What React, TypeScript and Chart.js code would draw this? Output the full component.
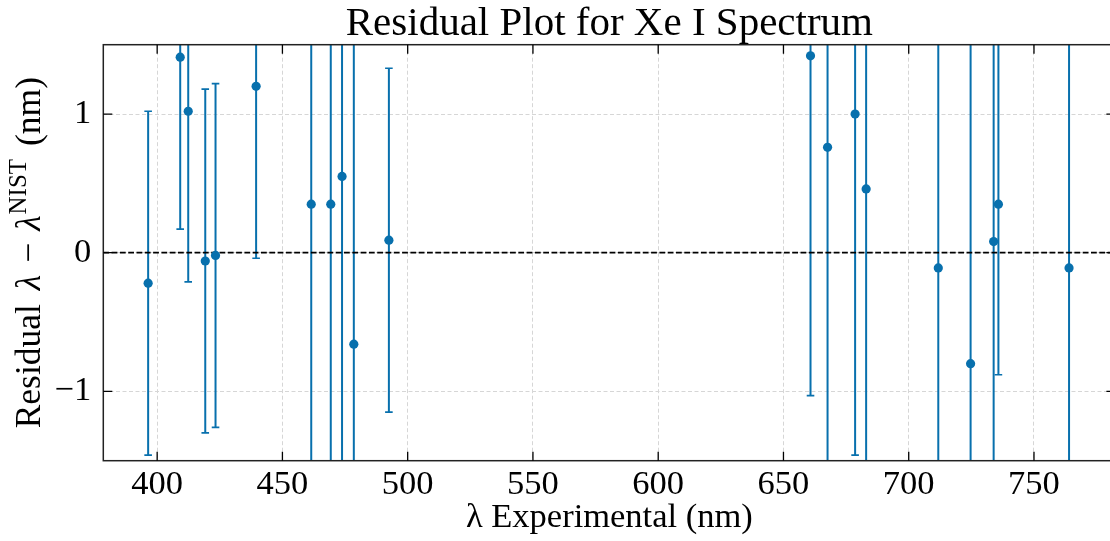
import { useEffect, useRef } from "react";
import { Chart, registerables } from "chart.js";

Chart.register(...registerables);

// ---- data ----
const wavelengths = [396.4, 409.2, 412.4, 419.2, 423.3, 439.5, 461.5, 469.3, 473.8, 478.5, 492.5, 660.8, 667.6, 678.6, 683.0, 711.8, 724.7, 733.9, 735.8, 764.0];
const residuals = [-0.22, 1.41, 1.02, -0.06, -0.02, 1.2, 0.35, 0.35, 0.55, -0.66, 0.09, 1.42, 0.76, 1.0, 0.46, -0.11, -0.8, 0.08, 0.35, -0.11];
const uncertainties = [1.24, 1.24, 1.23, 1.24, 1.24, 1.24, 2.45, 2.45, 2.45, 2.45, 1.24, 2.45, 2.45, 2.46, 2.45, 2.45, 2.45, 2.45, 1.23, 2.45];
const xTickValues = [400, 450, 500, 550, 600, 650, 700, 750];
const yTickValues = [-1, 0, 1];
const xRange = [378.5, 782.5];
const yRange = [-1.5, 1.5];

const TITLE = "Residual Plot for Xe I Spectrum";
const X_LABEL = "λ Experimental (nm)";

const BLUE = "#0870ad";
const FONT = '"Liberation Serif", "Times New Roman", serif';

const decorPlugin = {
  id: "decor",
  beforeDatasetsDraw(chart: any) {
    const { ctx, chartArea: a } = chart;
    const xs = chart.scales.x;
    const ys = chart.scales.y;
    ctx.save();
    ctx.beginPath();
    ctx.rect(a.left, a.top, a.right - a.left, a.bottom - a.top);
    ctx.clip();
    // error bars
    ctx.strokeStyle = BLUE;
    for (let i = 0; i < wavelengths.length; i++) {
      const px = xs.getPixelForValue(wavelengths[i]);
      const yTop = ys.getPixelForValue(residuals[i] + uncertainties[i]);
      const yBot = ys.getPixelForValue(residuals[i] - uncertainties[i]);
      ctx.lineWidth = 2;
      ctx.beginPath();
      ctx.moveTo(px, yTop);
      ctx.lineTo(px, yBot);
      ctx.stroke();
      ctx.lineWidth = 1.7;
      ctx.beginPath();
      ctx.moveTo(px - 3.8, yTop);
      ctx.lineTo(px + 3.8, yTop);
      ctx.moveTo(px - 3.8, yBot);
      ctx.lineTo(px + 3.8, yBot);
      ctx.stroke();
    }
    // zero line
    const y0 = ys.getPixelForValue(0);
    ctx.strokeStyle = "#000";
    ctx.lineWidth = 1.8;
    ctx.setLineDash([5.8, 2.5]);
    ctx.beginPath();
    ctx.moveTo(a.left, y0);
    ctx.lineTo(a.right, y0);
    ctx.stroke();
    ctx.restore();
  },
  afterDraw(chart: any) {
    const { ctx, chartArea: a } = chart;
    const xs = chart.scales.x;
    const ys = chart.scales.y;
    ctx.save();
    // frame
    ctx.strokeStyle = "#222";
    ctx.lineWidth = 1.5;
    ctx.strokeRect(a.left, a.top, a.right - a.left, a.bottom - a.top);
    // inward ticks
    ctx.lineWidth = 1.3;
    ctx.strokeStyle = "#000";
    const L = 9;
    ctx.beginPath();
    xTickValues.forEach((v) => {
      const px = xs.getPixelForValue(v);
      ctx.moveTo(px, a.bottom);
      ctx.lineTo(px, a.bottom - L);
      ctx.moveTo(px, a.top);
      ctx.lineTo(px, a.top + L);
    });
    yTickValues.forEach((v) => {
      const py = ys.getPixelForValue(v);
      ctx.moveTo(a.left, py);
      ctx.lineTo(a.left + L, py);
      ctx.moveTo(a.right, py);
      ctx.lineTo(a.right - L, py);
    });
    ctx.stroke();

    const cx = (a.left + a.right) / 2;
    ctx.fillStyle = "#000";
    // title
    ctx.font = `41px ${FONT}`;
    ctx.textAlign = "center";
    ctx.textBaseline = "alphabetic";
    ctx.fillText(TITLE, cx, 35);
    // x label
    ctx.font = `34.5px ${FONT}`;
    ctx.fillText(X_LABEL, cx, 527);

    // y label (rotated, with superscript)
    const parts = [
      { t: "Residual ", font: `35.5px ${FONT}`, dy: 0, pad: 5 },
      { t: "λ", font: `italic 35.5px ${FONT}`, dy: 0, pad: 12 },
      { t: "−", font: `35.5px ${FONT}`, dy: 0, pad: 12 },
      { t: "λ", font: `italic 35.5px ${FONT}`, dy: 0, pad: 1 },
      { t: "NIST", font: `25px ${FONT}`, dy: -14, pad: 4 },
      { t: " (nm)", font: `35.5px ${FONT}`, dy: 0, pad: 0 },
    ];
    let total = 0;
    const widths = parts.map((p) => {
      ctx.font = p.font;
      const w = ctx.measureText(p.t).width + p.pad;
      total += w;
      return w;
    });
    ctx.translate(39.5, (a.top + a.bottom) / 2);
    ctx.rotate(-Math.PI / 2);
    ctx.textAlign = "left";
    let xPos = -total / 2;
    parts.forEach((p, i) => {
      ctx.font = p.font;
      ctx.fillText(p.t, xPos, p.dy);
      xPos += widths[i];
    });
    ctx.restore();
  },
};

export default function App() {
  const canvasRef = useRef<HTMLCanvasElement | null>(null);

  useEffect(() => {
    document.body.style.margin = "0";
    document.body.style.overflow = "hidden";
    const canvas = canvasRef.current;
    if (!canvas) return;
    const chart = new Chart(canvas, {
      type: "scatter",
      data: {
        datasets: [
          {
            label: "Residuals",
            data: wavelengths.map((w, i) => ({ x: w, y: residuals[i] })),
            backgroundColor: BLUE,
            borderWidth: 0,
            pointRadius: 4.6,
            pointHoverRadius: 4.6,
          },
        ],
      },
      options: {
        animation: false,
        responsive: false,
        devicePixelRatio: 1,
        events: [],
        layout: { padding: { top: 44.7, right: 3, left: 0, bottom: 0 } },
        plugins: {
          legend: { display: false },
          title: { display: false },
          tooltip: { enabled: false },
        },
        scales: {
          x: {
            type: "linear",
            min: xRange[0],
            max: xRange[1],
            afterBuildTicks: (scale: any) => {
              scale.ticks = xTickValues.map((v) => ({ value: v }));
            },
            afterFit: (scale: any) => {
              scale.height = 80.3;
            },
            grid: { color: "#d6d6d6", lineWidth: 1, drawTicks: false },
            border: { display: false, dash: [4, 2.5] },
            ticks: {
              color: "#000",
              font: { family: FONT, size: 34.5 },
              padding: 4,
              maxRotation: 0,
              autoSkip: false,
            },
          },
          y: {
            type: "linear",
            min: yRange[0],
            max: yRange[1],
            afterBuildTicks: (scale: any) => {
              scale.ticks = yTickValues.map((v) => ({ value: v }));
            },
            afterFit: (scale: any) => {
              scale.width = 103.3;
            },
            grid: { color: "#d6d6d6", lineWidth: 1, drawTicks: false },
            border: { display: false, dash: [4, 2.5] },
            ticks: {
              color: "#000",
              font: { family: FONT, size: 34.5 },
              padding: 12,
              autoSkip: false,
              callback: (v: any) => String(v).replace("-", "\u2212"),
            },
          },
        },
      },
      plugins: [decorPlugin],
    } as any);
    return () => chart.destroy();
  }, []);

  return (
    <div style={{ position: "fixed", left: 0, top: 0, width: 1120, height: 541, background: "#fff" }}>
      <canvas ref={canvasRef} width={1120} height={541} style={{ display: "block", width: 1120, height: 541 }} />
    </div>
  );
}
